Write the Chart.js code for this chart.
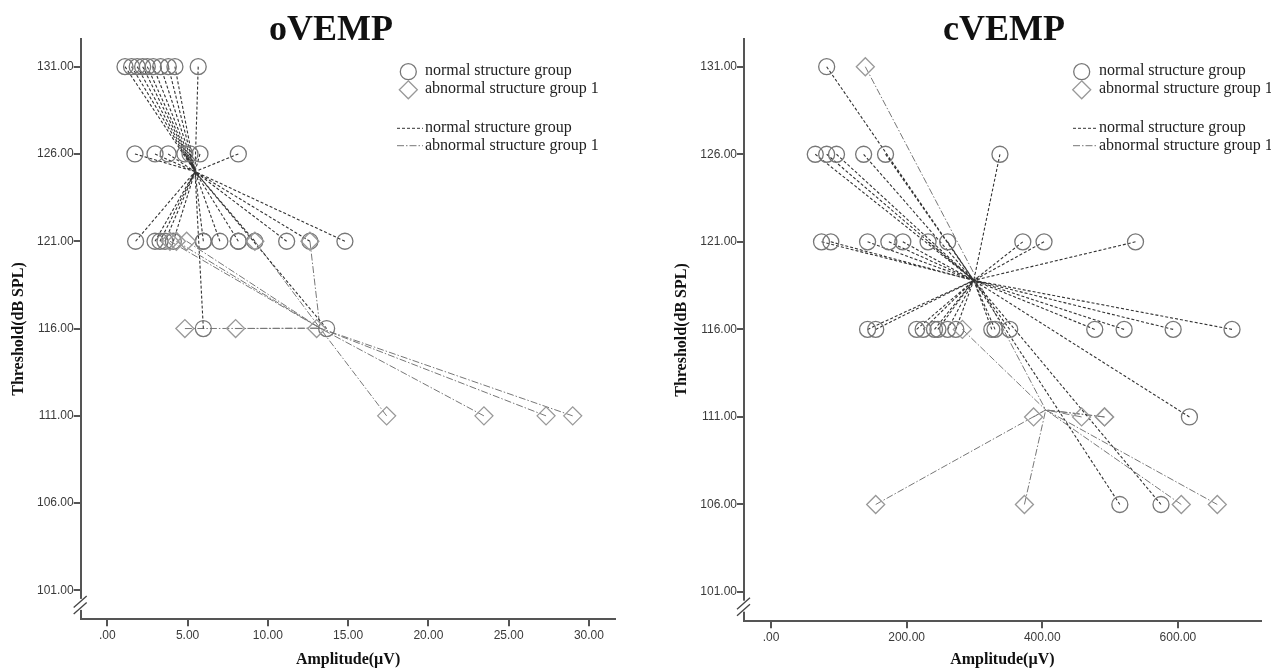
<!DOCTYPE html>
<html><head><meta charset="utf-8">
<script src="https://cdn.jsdelivr.net/npm/chart.js@4.4.0/dist/chart.umd.min.js"></script>
<style>
html,body{margin:0;padding:0;background:#fff;overflow:hidden;}
#wrap{position:relative;width:1271px;height:670px;overflow:hidden;background:#fff;}
.cv{position:absolute;top:0;height:670px;}
.title{position:absolute;top:10px;font:bold 36px "Liberation Serif","Times New Roman",serif;color:#111;line-height:36px;white-space:nowrap;transform:translateX(-50%);}
.leg{position:absolute;font:16px "Liberation Serif","Times New Roman",serif;color:#222;line-height:16px;white-space:nowrap;}
#sym{position:absolute;left:0;top:0;pointer-events:none;}
</style></head>
<body><div id="wrap">
<div class="cv" style="left:0;width:640px"><canvas id="c1"></canvas></div>
<div class="cv" style="left:640px;width:631px"><canvas id="c2"></canvas></div>
<div class="title" style="left:331px">oVEMP</div>
<div class="title" style="left:1004px">cVEMP</div>
<div class="leg" style="left:425px;top:62px">normal structure group</div>
<div class="leg" style="left:425px;top:80px">abnormal structure group 1</div>
<div class="leg" style="left:425px;top:119px">normal structure group</div>
<div class="leg" style="left:425px;top:137px">abnormal structure group 1</div>
<div class="leg" style="left:1099px;top:62px">normal structure group</div>
<div class="leg" style="left:1099px;top:80px">abnormal structure group 1</div>
<div class="leg" style="left:1099px;top:119px">normal structure group</div>
<div class="leg" style="left:1099px;top:137px">abnormal structure group 1</div>
<svg id="sym" width="1271" height="670">
  <g fill="none" stroke-width="1.3">
    <circle cx="408.3" cy="71.7" r="8" stroke="#777"/>
    <path d="M408.3 80.8 L417.3 89.8 L408.3 98.8 L399.3 89.8 Z" stroke="#999"/>
    <line x1="397" y1="128.3" x2="423" y2="128.3" stroke="#333" stroke-width="1" stroke-dasharray="3,2"/>
    <line x1="397" y1="145.7" x2="423" y2="145.7" stroke="#777" stroke-width="1" stroke-dasharray="7,2,1.5,2"/>
    <circle cx="1081.7" cy="71.7" r="8" stroke="#777"/>
    <path d="M1081.7 80.8 L1090.7 89.8 L1081.7 98.8 L1072.7 89.8 Z" stroke="#999"/>
    <line x1="1073" y1="128.3" x2="1097" y2="128.3" stroke="#333" stroke-width="1" stroke-dasharray="3,2"/>
    <line x1="1073" y1="145.7" x2="1097" y2="145.7" stroke="#777" stroke-width="1" stroke-dasharray="7,2,1.5,2"/>
  </g>
</svg>
</div>
<script>
// ---------------- DATA ----------------
// oVEMP, normal structure group (amplitude µV, threshold dB SPL)
const oNormalAmp = [1.10,1.51,1.86,2.20,2.49,2.86,3.32,3.80,4.21,5.66,
                    1.72,2.97,3.79,4.83,5.15,5.77,8.16,
                    1.76,2.97,3.28,3.59,4.11,5.98,5.98,7.01,8.16,8.16,9.19,11.17,12.62,14.80,
                    5.98,13.66];
const oNormalThr = [131,131,131,131,131,131,131,131,131,131,
                    126,126,126,126,126,126,126,
                    121,121,121,121,121,121,121,121,121,121,121,121,121,121,
                    116,116];
// oVEMP, abnormal structure group 1
const oAbnAmp = [3.90,4.30,4.94,9.19,12.62, 4.83,7.99,13.04, 17.40,23.46,27.33,28.99];
const oAbnThr = [121,121,121,121,121, 116,116,116, 111,111,111,111];
// group centroids (amplitude, threshold)
const oNormalCentroid = [5.46, 124.99];
const oAbnCentroid = [13.25, 116.02];

// cVEMP, normal structure group
const cNormalAmp = [82.1,
                    65.3,82.1,96.6,136.6,168.9,337.6,
                    74.5,88.2,142.4,173.8,194.4,231.6,260.5,371.3,402.6,537.5,
                    142.4,154.4,214.7,224.4,241.1,246.1,260.5,272.5,325.6,330.3,352.0,477.4,520.7,593.0,679.8,
                    617.0,
                    514.4,575.1];
const cNormalThr = [131,
                    126,126,126,126,126,126,
                    121,121,121,121,121,121,121,121,121,121,
                    116,116,116,116,116,116,116,116,116,116,116,116,116,116,116,
                    111,
                    106,106];
// cVEMP, abnormal structure group 1
const cAbnAmp = [139.1, 282.2, 387.2,458.0,491.8,491.8, 154.4,373.7,605.0,658.1];
const cAbnThr = [131, 116, 111,111,111,111, 106,106,106,106];
const cNormalCentroid = [299.0, 118.8];
const cAbnCentroid = [405.1, 111.4];

// tick values
const oXTicks = [0,5,10,15,20,25,30];
const cXTicks = [0,200,400,600];
const yTicks = [101,106,111,116,121,126,131];

// ---------------- CHARTS ----------------
const fmt = v => { const s = Number(v).toFixed(2); return s.startsWith('0.') ? s.slice(1) : s; };
const pts = (a, t) => a.map((v, i) => ({x: v, y: t[i]}));
function spokes(a, t, c) {
  const out = [];
  a.forEach((v, i) => { out.push({x: v, y: t[i]}, {x: c[0], y: c[1]}, {x: v, y: null}); });
  return out;
}
const axisColor = '#555';
const tickFont = {family: '"Liberation Sans", Arial, sans-serif', size: 12};
const titleFont = {family: '"Liberation Serif", "Times New Roman", serif', size: 16, weight: 'bold'};

const breakPlugin = {
  id: 'axisBreak',
  afterDraw(chart) {
    const ctx = chart.ctx, ca = chart.chartArea, ys = chart.scales.y;
    const x0 = ca.left;
    const yb = (ys.getPixelForValue(101) + ca.bottom) / 2;
    ctx.save();
    ctx.fillStyle = '#fff';
    ctx.fillRect(x0 - 3, yb - 6, 6, 11);
    ctx.strokeStyle = '#444';
    ctx.lineWidth = 1.3;
    [-3.5, 3].forEach(d => {
      ctx.beginPath();
      ctx.moveTo(x0 - 7, yb + d + 6);
      ctx.lineTo(x0 + 6, yb + d - 5.5);
      ctx.stroke();
    });
    ctx.restore();
  }
};

function makeChart(id, o) {
  const chart = new Chart(document.getElementById(id), {
    type: 'scatter',
    data: {
      datasets: [
        {label: 'normal structure group', data: spokes(o.nA, o.nT, o.nC), showLine: true, pointRadius: 0,
         borderColor: '#333', borderWidth: 1.1, borderDash: [3, 2], spanGaps: false, order: 2},
        {label: 'abnormal structure group 1', data: spokes(o.aA, o.aT, o.aC), showLine: true, pointRadius: 0,
         borderColor: '#777', borderWidth: 1, borderDash: [7, 2, 1.5, 2], spanGaps: false, order: 3},
        {label: 'normal structure group', data: pts(o.nA, o.nT), pointStyle: 'circle', pointRadius: 8,
         pointBorderColor: '#777', pointBackgroundColor: 'rgba(0,0,0,0)', pointBorderWidth: 1.3, showLine: false, order: 1},
        {label: 'abnormal structure group 1', data: pts(o.aA, o.aT), pointStyle: 'rectRot', pointRadius: 9,
         pointBorderColor: '#999', pointBackgroundColor: 'rgba(0,0,0,0)', pointBorderWidth: 1.3, showLine: false, order: 0}
      ]
    },
    options: {
      responsive: true, maintainAspectRatio: false, animation: false, events: [],
      layout: {padding: {top: o.area.top, right: o.w - o.area.right, bottom: 0, left: 0}},
      plugins: {legend: {display: false}, tooltip: {enabled: false}, title: {display: false}},
      scales: {
        x: {
          type: 'linear', min: o.xMin, max: o.xMax,
          afterBuildTicks: s => { s.ticks = o.xTicks.map(v => ({value: v})); },
          afterFit: s => { s.height = 670 - o.area.bottom; },
          ticks: {font: tickFont, color: '#3a3a3a', padding: 2, callback: fmt, maxRotation: 0, autoSkip: false, includeBounds: false},
          grid: {drawOnChartArea: false, drawTicks: true, tickLength: 7, color: axisColor, lineWidth: 2},
          border: {display: true, color: axisColor, width: 2},
          title: {display: true, text: 'Amplitude(µV)', font: titleFont, color: '#111', padding: {top: 0, bottom: 1}}
        },
        y: {
          type: 'linear', min: o.yMin, max: 132.6,
          afterBuildTicks: s => { s.ticks = yTicks.map(v => ({value: v})); },
          afterFit: s => { s.width = o.area.left; },
          ticks: {font: tickFont, color: '#3a3a3a', padding: 0, callback: fmt, autoSkip: false, includeBounds: false},
          grid: {drawOnChartArea: false, drawTicks: true, tickLength: 7, color: axisColor, lineWidth: 2},
          border: {display: true, color: axisColor, width: 2},
          title: {display: true, text: 'Threshold(dB SPL)', font: titleFont, color: '#111', padding: {top: o.yTitlePad, bottom: 0}}
        }
      }
    },
    plugins: [breakPlugin]
  });
  // correct the plot area so it sits exactly where wanted
  const ca = chart.chartArea, p = chart.options.layout.padding;
  const np = {
    top: p.top + (o.area.top - ca.top),
    bottom: p.bottom + (ca.bottom - o.area.bottom),
    left: p.left + (o.area.left - ca.left),
    right: p.right + (ca.right - o.area.right)
  };
  if (Math.abs(np.top - p.top) + Math.abs(np.bottom - p.bottom) + Math.abs(np.left - p.left) + Math.abs(np.right - p.right) > 0.3) {
    chart.options.layout.padding = np;
    chart.update('none');
  }
  return chart;
}

makeChart('c1', {nA: oNormalAmp, nT: oNormalThr, nC: oNormalCentroid, aA: oAbnAmp, aT: oAbnThr, aC: oAbnCentroid,
  xMin: -1.66, xMax: 31.65, xTicks: oXTicks, yMin: 99.35, w: 640,
  area: {left: 80.7, right: 615.4, top: 38.7, bottom: 619.3}, yTitlePad: 9.4});
makeChart('c2', {nA: cNormalAmp, nT: cNormalThr, nC: cNormalCentroid, aA: cAbnAmp, aT: cAbnThr, aC: cAbnCentroid,
  xMin: -39.8, xMax: 722.1, xTicks: cXTicks, yMin: 99.33, w: 631,
  area: {left: 104, right: 631, top: 38.7, bottom: 621.3}, yTitlePad: 32.4});
</script>
</body></html>
